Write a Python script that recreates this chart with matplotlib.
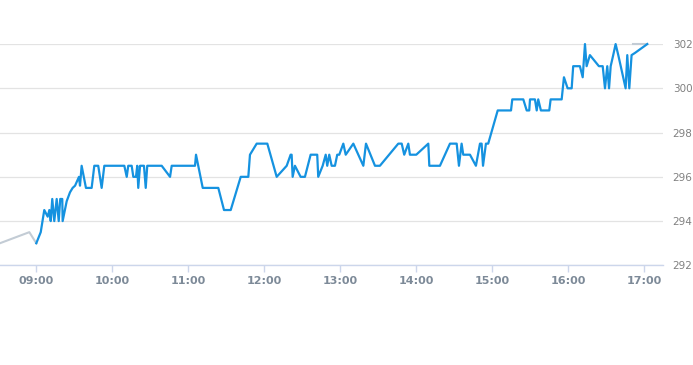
import matplotlib
matplotlib.use("Agg")
import matplotlib.pyplot as plt
from matplotlib.ticker import FixedLocator, FuncFormatter

# minutes after 09:00 and price
minutes = [0, 3.5, 6.3, 9.0, 10.3, 11.4, 12.6, 14.2, 16.1, 17.7, 18.9, 20.5, 20.8,
           24.0, 26.6, 28.7, 30.6, 33.7, 34.5, 35.8, 39.2, 43.7, 45.8, 48.9, 51.6,
           53.7, 69.5, 71.4, 72.6, 75.3, 76.6, 78.7, 79.7, 80.5, 81.9, 85.0, 86.4,
           87.6, 99.0, 105.6, 106.9, 125.3, 126.1, 131.4, 143.7, 148.2, 153.5,
           161.4, 167.4, 168.7, 174.0, 182.4, 189.8, 197.7, 200.8, 201.6, 202.4,
           204.2, 208.7, 212.1, 216.6, 221.8, 222.6, 226.1, 228.5, 229.7, 231.3,
           233.2, 235.8, 237.6, 239.2, 242.4, 244.3, 250.3, 258.2, 260.3, 267.4,
           271.3, 285.8, 288.5, 290.5, 293.7, 295.0, 300.0, 309.5, 310.3, 318.7,
           326.6, 331.9, 333.7, 335.8, 337.1, 342.4, 347.1, 350.3, 351.6, 352.7,
           355.0, 356.8, 364.3, 374.8, 375.8, 384.5, 387.2, 389.2, 389.8, 393.7,
           395.1, 396.3, 398.4, 405.0, 406.1, 414.8, 416.6, 419.5, 422.7, 423.9,
           429.2, 431.4, 433.2, 434.5, 437.1, 444.2, 447.2, 449.0, 450.8, 452.2,
           453.5, 455.5, 457.4, 459.5, 465.3, 466.6, 468.2, 470.0, 472.7, 482.4]
price = [293.0, 293.5, 294.5, 294.2, 294.5, 294.0, 295.0, 294.0, 295.0, 294.0, 295.0, 295.0, 294.0,
         294.9, 295.3, 295.5, 295.6, 296.0, 295.6, 296.5, 295.5, 295.5, 296.5, 296.5, 295.5,
         296.5, 296.5, 296.0, 296.5, 296.5, 296.0, 296.0, 296.5, 295.5, 296.5, 296.5, 295.5,
         296.5, 296.5, 296.0, 296.5, 296.5, 297.0, 295.5, 295.5, 294.5, 294.5,
         296.0, 296.0, 297.0, 297.5, 297.5, 296.0, 296.5, 297.0, 297.0, 296.0,
         296.5, 296.0, 296.0, 297.0, 297.0, 296.0, 296.5, 297.0, 296.5, 297.0,
         296.5, 296.5, 297.0, 297.0, 297.5, 297.0, 297.5, 296.5, 297.5, 296.5,
         296.5, 297.5, 297.5, 297.0, 297.5, 297.0, 297.0, 297.5, 296.5, 296.5,
         297.5, 297.5, 296.5, 297.5, 297.0, 297.0, 296.5, 297.5, 297.5, 296.5,
         297.5, 297.5, 299.0, 299.0, 299.5, 299.5, 299.0, 299.0, 299.5, 299.5,
         299.0, 299.5, 299.0, 299.0, 299.5, 299.5, 300.5, 300.0, 300.0, 301.0,
         301.0, 300.5, 302.0, 301.0, 301.5, 301.0, 301.0, 300.0, 301.0, 300.0,
         301.0, 301.5, 302.0, 301.5, 300.0, 301.5, 300.0, 301.5, 301.6, 302.0]

pre_minutes = [-28.7, -5.5, 0]
pre_price = [293.0, 293.5, 293.0]
post_minutes = [470.8, 482.4]
post_price = [302.0, 302.0]

hour_ticks = [0, 60, 120, 180, 240, 300, 360, 420, 480]
y_ticks = [292, 294, 296, 298, 300, 302]

fig = plt.figure(figsize=(6.93, 3.65), dpi=100)
ax = fig.add_axes([0, 0.273, 0.9567, 0.6063])

ax.plot(pre_minutes, pre_price, color="#c3ccd5", lw=1.5, clip_on=False, zorder=2)
ax.plot(post_minutes, post_price, color="#c3ccd5", lw=1.5, clip_on=False, zorder=2)
ax.plot(minutes, price, color="#1592e0", lw=1.6, clip_on=False, zorder=3,
        solid_joinstyle="round")

ax.set_xlim(-28.66, 494.8)
ax.set_ylim(292, 302)

ax.xaxis.set_major_locator(FixedLocator(hour_ticks))
ax.xaxis.set_major_formatter(FuncFormatter(lambda v, p: "%02d:%02d" % (9 + int(v) // 60, int(v) % 60)))
ax.yaxis.set_major_locator(FixedLocator(y_ticks))
ax.yaxis.tick_right()

ax.grid(axis="y", color="#e3e3e3", lw=0.9)
ax.set_axisbelow(True)
for s in ["top", "left", "right"]:
    ax.spines[s].set_visible(False)
ax.spines["bottom"].set_color("#ccd6eb")
ax.spines["bottom"].set_linewidth(1)

ax.tick_params(axis="x", length=5, width=1, color="#ccd6eb", labelsize=8,
               labelcolor="#7d8a98", pad=3)
for lb in ax.get_xticklabels():
    lb.set_fontweight("bold")
ax.tick_params(axis="y", length=0, labelsize=7.5, labelcolor="#808080", pad=7)

fig.savefig("out.png", dpi=100)
